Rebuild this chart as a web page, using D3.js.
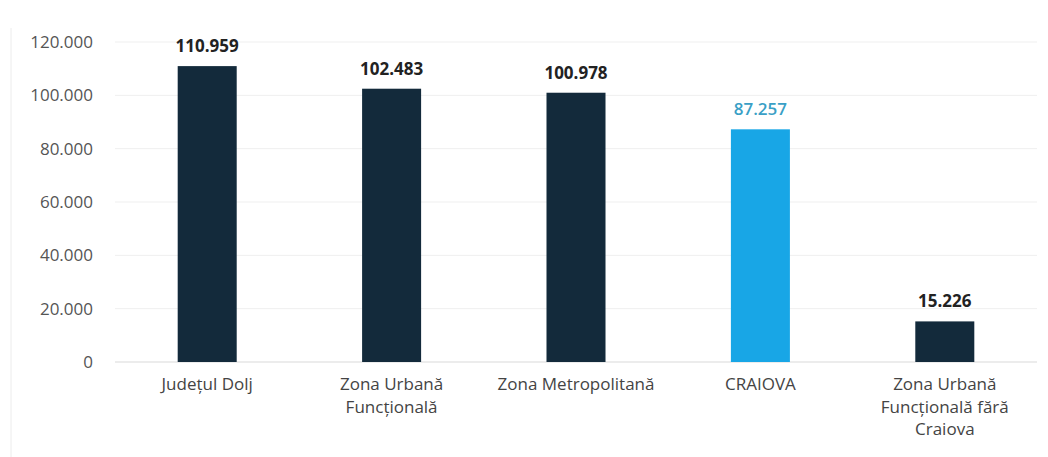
<!DOCTYPE html>
<html><head><meta charset="utf-8">
<script src="https://cdn.jsdelivr.net/npm/d3@7"></script>
<style>body{margin:0;background:#fff}svg{display:block}</style>
</head><body>
<svg id="c" width="1048" height="457"></svg>
<script>
const categories = ["Județul Dolj", "Zona Urbană Funcțională", "Zona Metropolitană", "CRAIOVA", "Zona Urbană Funcțională fără Craiova"];
const categoryLines = [["Județul Dolj"], ["Zona Urbană", "Funcțională"], ["Zona Metropolitană"], ["CRAIOVA"], ["Zona Urbană", "Funcțională fără", "Craiova"]];
const values = [110959, 102483, 100978, 87257, 15226];
const highlight = [false, false, false, true, false];
const yTicks = [0, 20000, 40000, 60000, 80000, 100000, 120000];

const svg = d3.select("#c");
const fmt = v => d3.format(",")(v).replace(/,/g, ".");
const x = d3.scaleBand().domain(categories).range([115, 1037]).padding(0);
const y = d3.scaleLinear().domain([0, 120000]).range([362, 42]);
const barW = x.bandwidth() * 0.32;
const dark = "#132a3b", light = "#18a6e6";

svg.append("line").attr("x1", 11).attr("x2", 11).attr("y1", 28).attr("y2", 457).attr("stroke", "#ececec");

svg.append("g").selectAll("line").data(yTicks).join("line")
  .attr("x1", 115).attr("x2", 1037).attr("y1", d => y(d)).attr("y2", d => y(d))
  .attr("stroke", d => d === 0 ? "#d9d9d9" : "#efefef").attr("stroke-width", 1);

const yAxis = d3.axisLeft(y).tickValues(yTicks).tickFormat(fmt).tickSize(0).tickPadding(0);
const ga = svg.append("g").attr("transform", "translate(93,0)").call(yAxis);
ga.select(".domain").remove();
ga.selectAll("text").attr("font-family", "'Open Sans', sans-serif").attr("font-size", 17).attr("fill", "#555");

const data = categories.map((c, i) => ({c, v: values[i], h: highlight[i], lines: categoryLines[i]}));
svg.append("g").selectAll("rect").data(data).join("rect")
  .attr("x", d => x(d.c) + x.bandwidth() / 2 - barW / 2).attr("width", barW)
  .attr("y", d => y(d.v)).attr("height", d => y(0) - y(d.v))
  .attr("fill", d => d.h ? light : dark);

svg.append("g").selectAll("text").data(data).join("text")
  .attr("x", d => x(d.c) + x.bandwidth() / 2).attr("y", d => y(d.v) - 14)
  .attr("text-anchor", "middle").attr("font-family", "'Open Sans', sans-serif")
  .attr("font-size", 17).attr("font-weight", d => d.h ? 600 : 700)
  .attr("fill", d => d.h ? "#3a9fc6" : "#222").text(d => fmt(d.v));

const lab = svg.append("g").selectAll("text").data(data).join("text")
  .attr("text-anchor", "middle").attr("font-family", "'Open Sans', sans-serif")
  .attr("font-size", 17).attr("fill", "#444");
lab.each(function(d) {
  const t = d3.select(this);
  d.lines.forEach((l, j) => t.append("tspan").attr("x", x(d.c) + x.bandwidth() / 2).attr("y", 390 + j * 22.5).text(l));
});
</script>
</body></html>
